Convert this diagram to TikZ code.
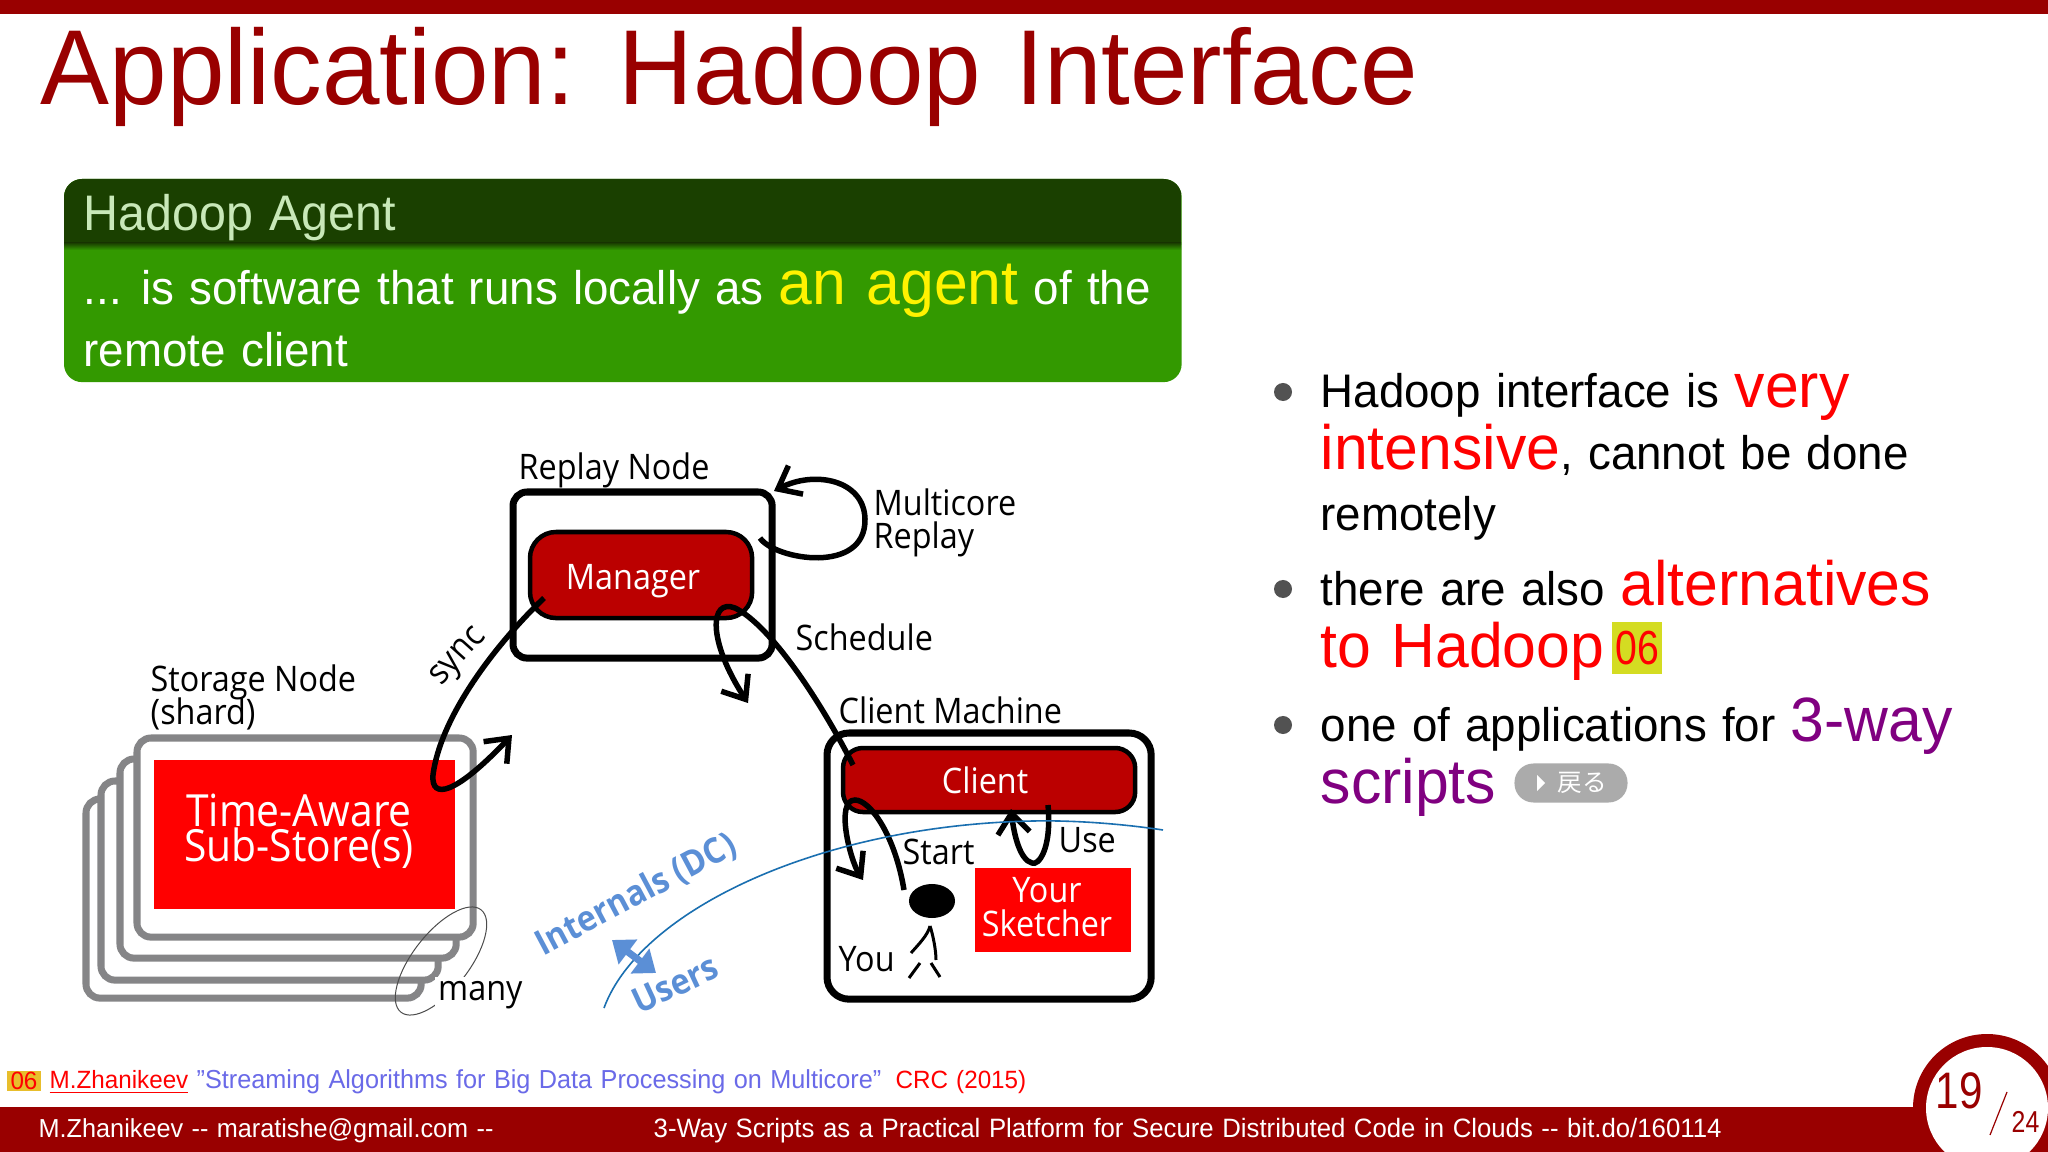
\documentclass[tikz,border=0pt]{standalone}
\usepackage{fontspec}
\usepackage{amsmath}
\usetikzlibrary{arrows.meta,shapes.geometric}
\setmainfont[FakeStretch=0.97,WordSpace=1.2]{Liberation Sans}
\newfontfamily\diagfont[FakeStretch=0.92]{Open Sans}
\newfontfamily\numfont[FakeStretch=0.82]{Liberation Sans}
\newfontfamily\cjkfont{Noto Sans CJK JP}
\definecolor{barred}{HTML}{990000}
\definecolor{nodered}{HTML}{BB0000}
\definecolor{darkgreen}{HTML}{1A4000}
\definecolor{bodygreen}{HTML}{339900}
\definecolor{boxgrey}{HTML}{858587}
\definecolor{linkblue}{HTML}{5B8FD6}
\definecolor{refblue}{HTML}{6A6AE8}
\definecolor{bluecurve}{HTML}{1A6FB0}
\definecolor{tagyellow}{HTML}{D4DC22}
\newcommand{\bodysize}{\fontsize{13.4}{16}\selectfont}
\newcommand{\hotsize}{\fontsize{17.8}{20}\selectfont}
\newcommand{\smallsize}{\fontsize{7.1}{8}\selectfont}
\newcommand{\footsize}{\fontsize{7.4}{8}\selectfont}
\tikzset{
  txt/.style={anchor=base west,inner sep=0pt,font=\bodysize},
  diag/.style={anchor=base west,inner sep=0pt,font=\diagfont\fontsize{10}{9.4}\selectfont},
  shard/.style={draw=boxgrey,fill=white,line width=0.07cm,rounded corners=0.14cm,anchor=north west,outer sep=0pt},
  machine/.style={draw=black,line width=0.07cm,anchor=north west,outer sep=0pt},
  redbox/.style={draw=black,fill=nodered,text=white,line width=0.045cm,font=\diagfont\fontsize{10}{10}\selectfont,anchor=north west,outer sep=0pt},
  flow/.style={line width=0.055cm,-{Straight Barb[length=0.2cm,width=0.32cm]}},
  bullet/.style={circle,fill=black!68,minimum size=0.18cm,inner sep=0pt},
  agentpart/.style={rounded corners=0.18cm,minimum width=11.17cm,minimum height=2.03cm,anchor=north west,inner sep=0pt,outer sep=0pt},
  redsheet/.style={fill=red,anchor=north west,inner sep=0pt,outer sep=0pt},
  sidetext/.style={rotate=#1,text=linkblue,font=\diagfont\bfseries\fontsize{10}{10}\selectfont,inner sep=0pt},
}
\begin{document}
\begin{tikzpicture}[x=0.01cm,y=-0.01cm]
\useasboundingbox (0,0) rectangle (2048,1152);
\fill[white] (0,0) rectangle (2048,1152);

% Bars and title
\fill[barred] (0,0) rectangle (2048,14);
\fill[barred] (0,1107) rectangle (2048,1152);
\node[txt,text=barred,font=\fontsize{30.3}{34}\selectfont] (title) at (40,105) {Application: Hadoop Interface};

% Agent box
\node[agentpart,fill=bodygreen] (agentbody) at (64,179) {};
\begin{scope}
\clip (64,179) rectangle (1181,245);
\node[agentpart,fill=darkgreen] (agenthead) at (64,179) {};
\end{scope}
\shade[top color=darkgreen,bottom color=bodygreen] (64,243) rectangle (1181,250);
\node[txt,text={rgb,255:red,200;green,232;blue,184},font=\fontsize{14.2}{16}\selectfont] (agenttitle) at (83,231) {Hadoop Agent};
\node[txt,text=white] (agentline) at (83,305) {... is software that runs locally as \textcolor{yellow}{\hotsize an agent} of the};
\node[txt,text=white] (agentlast) at (83,367) {remote client};

% Storage nodes
\node[shard,minimum width=3.35cm,minimum height=1.99cm] (shardd) at (86,799) {};
\node[shard,minimum width=3.37cm,minimum height=1.99cm] (shardc) at (101,781) {};
\node[shard,minimum width=3.36cm,minimum height=1.99cm] (shardb) at (120,759) {};
\node[shard,minimum width=3.36cm,minimum height=1.99cm] (sharda) at (137,738) {};
\node[redsheet,minimum width=3.01cm,minimum height=1.49cm] (substore) at (154,760) {};
\node[text=white,align=center,inner sep=0pt,font=\diagfont\fontsize{12.6}{10}\selectfont] (substoretext) at (299,831) {Time-Aware\\Sub-Store(s)};
\draw[black!70,line width=0.01cm,rotate around={52:(441,961)}] (441,961) ellipse (65 and 28);
\node[diag,fill=white,inner sep=1pt] (many) at (434,1000) {many};
\node[diag,align=left] (storagelabel) at (150,692) {Storage Node};
\node[diag] (shardlabel) at (150,725) {(shard)};

% Replay node
\node[machine,rounded corners=0.14cm,minimum width=2.59cm,minimum height=1.66cm] (replay) at (513,492) {};
\node[redbox,rounded corners=0.26cm,minimum width=2.22cm,minimum height=0.86cm] (manager) at (530,532) {\hspace*{-0.16cm}\rule{0pt}{0.37cm}Manager};
\node[diag] (replaylabel) at (518,480) {Replay Node};
\node[diag] (multicore) at (873,515) {Multicore};
\node[diag] (multireplay) at (873,548) {Replay};
\node[diag] (schedule) at (795,650) {Schedule};
\node[diag,rotate=48,anchor=center] (synclabel) at (460,658) {sync};

% Client machine
\node[machine,rounded corners=0.22cm,minimum width=3.24cm,minimum height=2.66cm] (machine) at (827,733) {};
\node[redbox,rounded corners=0.2cm,minimum width=2.92cm,minimum height=0.64cm] (client) at (843,748) {\hspace*{-0.08cm}Client};
\node[redsheet,minimum width=1.56cm,minimum height=0.84cm] (sketcher) at (975,868) {};
\node[text=white,align=center,inner sep=0pt,font=\diagfont\fontsize{10}{9.6}\selectfont] (sketchertext) at (1047,907) {Your\\Sketcher};
\node[diag] (machinelabel) at (838,723) {Client Machine};
\node[diag] (startlabel) at (902,864) {Start};
\node[diag] (uselabel) at (1058,852) {Use};
\node[diag] (youlabel) at (838,971) {You};

% You
\node[ellipse,fill=black,minimum width=0.46cm,minimum height=0.34cm,inner sep=0pt] (head) at (932,901) {};
\draw[line width=0.03cm] (930,926) .. controls (928,935) and (918,945) .. (911,953);
\draw[line width=0.03cm] (930,926) .. controls (933,935) and (936,950) .. (936,960);
\draw[line width=0.03cm] (920,963) -- (909,978);
\draw[line width=0.03cm] (931,963) -- (940,977);

% Connectors
\coordinate (syncstart) at (544,598);
\coordinate (syncend) at (512,735);
\coordinate (loopstart) at (760,538);
\coordinate (loopend) at (774,491);
\coordinate (schedstart) at (853,765);
\coordinate (schedend) at (748,703);
\coordinate (startstart) at (904,890);
\coordinate (startend) at (863,880);
\coordinate (usestart) at (1048,805);
\coordinate (useend) at (1011,809);
\draw[flow] (syncstart) .. controls (490,650) and (440,720) .. (433,775) .. controls (431,800) and (455,795) .. (syncend);
\draw[flow] (loopstart) .. controls (775,560) and (866,575) .. (865,519) .. controls (864,480) and (815,470) .. (loopend);
\draw[flow] (schedstart) .. controls (820,700) and (770,625) .. (735,608) .. controls (710,598) and (707,640) .. (schedend);
\draw[flow] (startstart) .. controls (895,835) and (870,800) .. (855,800) .. controls (835,800) and (850,860) .. (startend);
\draw[flow] (usestart) .. controls (1052,850) and (1038,866) .. (1032,863) .. controls (1020,860) and (1014,835) .. (useend);

% Internals and users
\draw[bluecurve,line width=0.016cm] (604,1008) .. controls (640,910) and (820,825) .. (1033,821) .. controls (1080,820) and (1130,825) .. (1163,830);
\coordinate (sideup) at (612,940);
\coordinate (sidedown) at (656,973);
\draw[linkblue,line width=0.07cm,{Triangle[length=0.2cm,width=0.3cm]}-{Triangle[length=0.2cm,width=0.3cm]}] (sideup) -- (sidedown);
\node[sidetext=28] (internals) at (636,895) {Internals (DC)};
\node[sidetext=25] (users) at (675,984) {Users};

% Bullets
\node[bullet] (bulleta) at (1283,392) {};
\node[bullet] (bulletb) at (1283,589) {};
\node[bullet] (bulletc) at (1283,725) {};
\node[txt] (linea) at (1320,408) {Hadoop interface is \textcolor{red}{\hotsize very}};
\node[txt] (lineb) at (1320,470) {\textcolor{red}{\hotsize intensive}, cannot be done};
\node[txt] (linec) at (1320,531) {remotely};
\node[txt] (lined) at (1320,606) {there are also \textcolor{red}{\hotsize alternatives}};
\node[txt,text=red,font=\hotsize] (linee) at (1320,667) {to Hadoop};
\node[fill=tagyellow,text=red,minimum width=0.5cm,minimum height=0.52cm,inner sep=0pt,font=\numfont\fontsize{13.6}{14}\selectfont] (tagb) at (1637,648) {06};
\node[txt] (linef) at (1320,741) {one of applications for \textcolor[HTML]{800080}{\hotsize 3-way}};
\node[txt,text={rgb,255:red,128;green,0;blue,128},font=\hotsize] (lineg) at (1320,803) {scripts};
\node[fill=black!33,rounded corners=0.19cm,minimum width=1.13cm,minimum height=0.39cm,inner sep=0pt] (backpill) at (1571,783) {};
\fill[white] (1537,775) -- (1545,783) -- (1537,791) -- cycle;
\node[text=white,inner sep=0pt,font=\cjkfont\fontsize{7}{8}\selectfont] (backtext) at (1582,783) {戻る};

% Reference line
\node[fill=tagyellow!60!orange!90!white,text=red,minimum width=0.34cm,minimum height=0.19cm,inner sep=0pt,font=\smallsize] (taga) at (24,1081) {06};
\node[txt,font=\smallsize,text=red] (refname) at (49,1088) {\underline{M.Zhanikeev}};
\node[txt,font=\footsize,text=refblue] (reftitle) at (196,1088) {"Streaming Algorithms for Big Data Processing on Multicore"};
\node[txt,font=\smallsize,text=red] (refpub) at (895,1088) {CRC (2015)};

% Footer
\node[txt,font=\footsize,text=white] (footleft) at (38,1137) {M.Zhanikeev -{}- maratishe@gmail.com -{}-};
\node[txt,font=\fontsize{7.55}{8}\selectfont,text=white] (footmid) at (653,1137) {3-Way Scripts as a Practical Platform for Secure Distributed Code in Clouds -{}- bit.do/160114};
\fill[barred] (1987,1108) circle (74);
\fill[white] (1987,1108) circle (61);
\node[txt,font=\numfont\fontsize{14.6}{16}\selectfont,text=barred] (pagenum) at (1935,1108) {19};
\draw[barred,line width=0.012cm] (2007,1092) -- (1990,1135);
\node[txt,font=\numfont\fontsize{8.6}{10}\selectfont,text=barred] (pagetotal) at (2011,1132) {24};
\end{tikzpicture}
\end{document}
